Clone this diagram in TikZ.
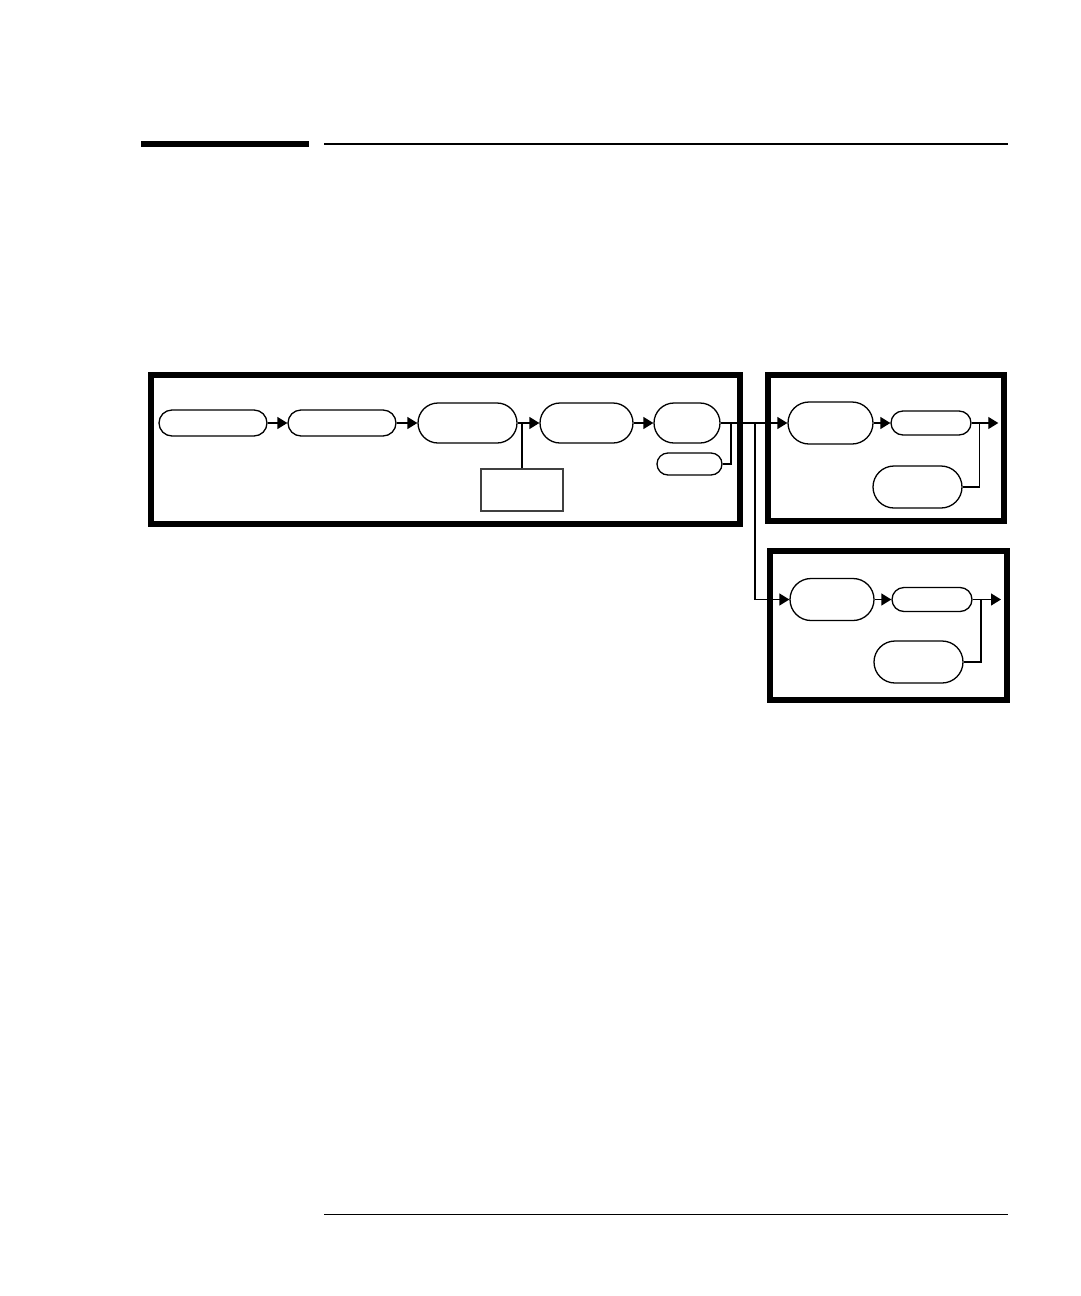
\documentclass[tikz,border=0pt]{standalone}
\usetikzlibrary{arrows.meta}
\begin{document}
\begin{tikzpicture}[x=1pt,y=-1pt,
  thin line/.style={line width=1.3pt},
  frame/.style={line width=6pt},
  pill/.style={draw,thin line,inner sep=0pt,rounded corners=#1,minimum height=2*#1},
  plainbox/.style={draw=black!75,line width=1.2pt,inner sep=0pt},
  conn/.style={thin line,-{Triangle[length=10pt,width=12pt]}},
  line/.style={thin line}]
\useasboundingbox (0,0) rectangle (1080,1296);
% header and footer rules
\fill (141,141) rectangle (309,147);
\draw[line width=1.5pt] (324,144) -- (1008,144);
\draw[line width=1.5pt] (324,1214.3) -- (1008,1214.3);
% frames
\draw[frame] (151,375) rectangle (740,523.5);
\draw[frame] (768.3,374.7) rectangle (1003.8,521.3);
\draw[frame] (769.5,551) rectangle (1006.5,699.5);
% nodes
\node[pill=13pt,minimum width=108pt] (n1) at (213,423) {};
\node[pill=13pt,minimum width=108pt] (n2) at (342,423) {};
\node[pill=20pt,minimum width=99pt] (n3) at (467.5,423) {};
\node[pill=20pt,minimum width=93pt] (n4) at (586.5,423) {};
\node[pill=20pt,minimum width=66pt] (n5) at (687,423) {};
\node[pill=11pt,minimum width=65pt] (n6) at (689.5,464) {};
\node[plainbox,minimum width=82pt,minimum height=42pt] (bx) at (522,490) {};
\node[pill=21pt,minimum width=85pt] (n7) at (830.5,423) {};
\node[pill=12pt,minimum width=80pt] (n8) at (931,423) {};
\node[pill=21pt,minimum width=89pt] (n9) at (917.5,487) {};
\node[pill=21pt,minimum width=84pt] (n10) at (832,599.5) {};
\node[pill=12pt,minimum width=80pt] (n11) at (932,599.5) {};
\node[pill=21pt,minimum width=89pt] (n12) at (918.5,662) {};
% junction coordinates
\coordinate (j1) at (522,423);
\coordinate (j2) at (731,423);
\coordinate (j3) at (755,423);
\coordinate (j4) at (979.3,423);
\coordinate (o1) at (998.3,423);
\coordinate (j5) at (981,599.5);
\coordinate (o2) at (1001,599.5);
% connectors
\draw[conn] (n1) -- (n2);
\draw[conn] (n2) -- (n3);
\draw[conn] (n3) -- (n4);
\draw[line] (bx.north) -- (j1);
\draw[conn] (n4) -- (n5);
\draw[conn] (n5) -- (n7);
\draw[line] (n6.east) -| (j2);
\draw[conn] (j3) |- (n10.west);
\draw[conn] (n7) -- (n8);
\draw[conn] (n8) -- (o1);
\draw[line] (n9.east) -| (j4);
\draw[conn] (n10) -- (n11);
\draw[conn] (n11) -- (o2);
\draw[line] (n12.east) -| (j5);
\end{tikzpicture}
\end{document}
